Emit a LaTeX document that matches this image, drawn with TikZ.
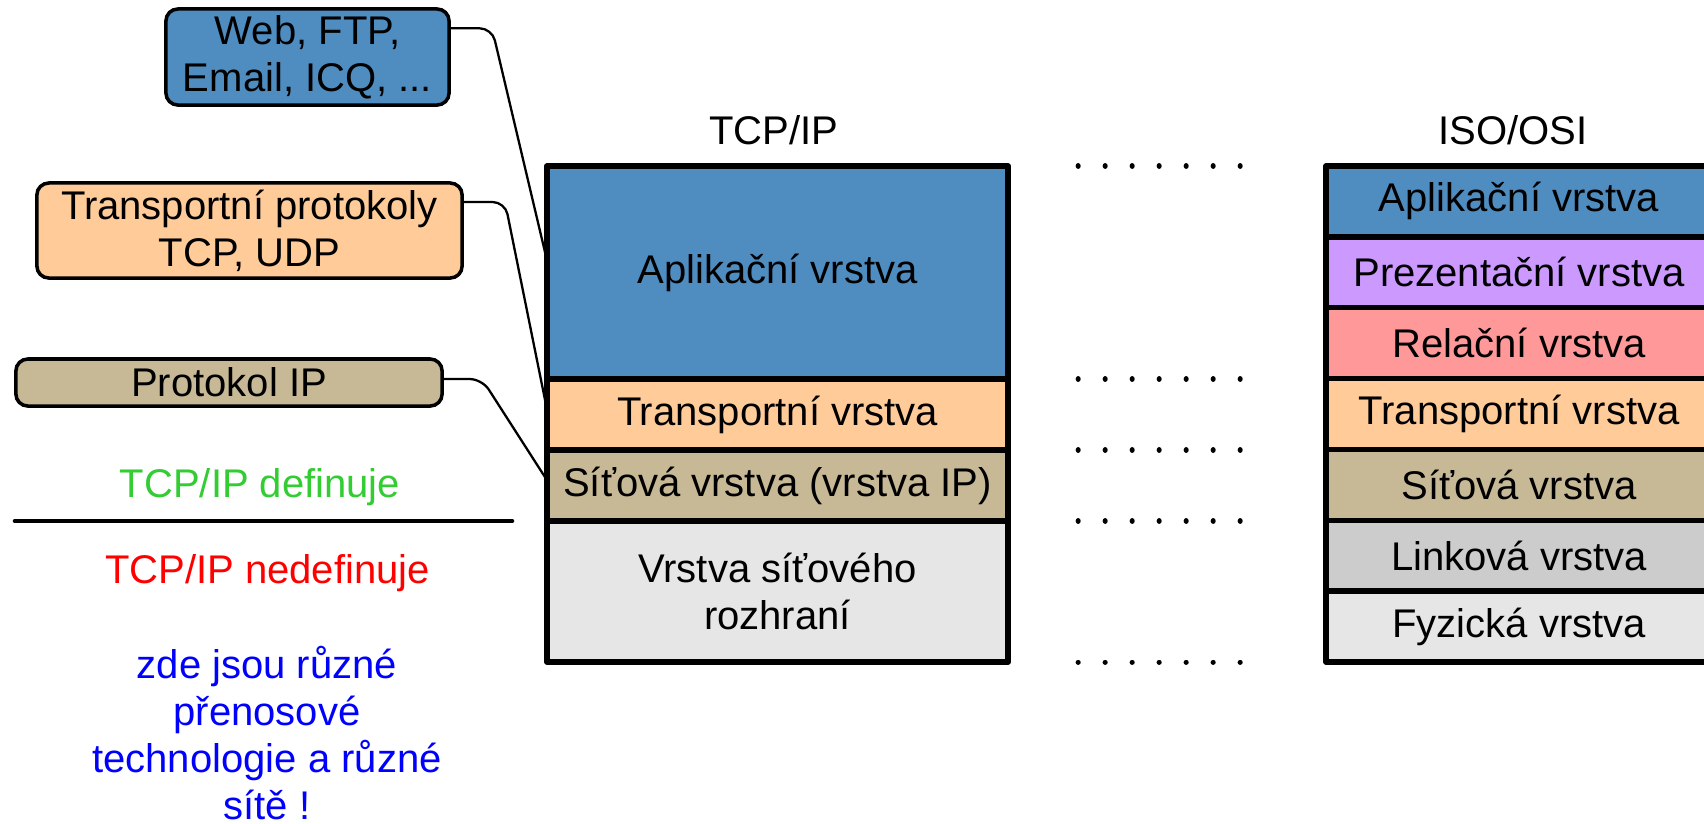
\documentclass[tikz,border=0pt]{standalone}
\usepackage{fontspec}
\setmainfont{Liberation Sans}
\usetikzlibrary{calc}
\definecolor{cblue}{HTML}{4F8DC1}
\definecolor{corange}{HTML}{FFCC99}
\definecolor{ctan}{HTML}{C7B996}
\definecolor{cpurple}{HTML}{CC99FF}
\definecolor{cpink}{HTML}{FF9999}
\definecolor{cgray}{HTML}{CCCCCC}
\definecolor{clight}{HTML}{E6E6E6}
\definecolor{cgreen}{HTML}{33CC33}
\begin{document}
\begin{tikzpicture}[x=0.01cm,y=-0.01cm,
 every node/.style={font=\fontsize{11.38}{13.37}\selectfont},
 layer/.style={draw,line width=1.55pt,line join=round,inner sep=0pt,outer sep=0pt,align=center},
 tcplayer/.style={layer,minimum width=4.61cm},
 osilayer/.style={layer,minimum width=3.86cm,minimum height=0.7086cm},
 callout/.style={draw,line width=1.0pt,rounded corners=3.4pt,inner sep=0pt,outer sep=0pt,align=center},
 conn/.style={line width=0.65pt,rounded corners=3.5pt},
 dotrow/.style={line width=1.45pt,line cap=round,dash pattern=on 0.01pt off 0.2695cm},
 sepline/.style={line width=1.3pt,line cap=round}]
\path[use as bounding box] (0,0) rectangle (1704,823);
\clip (0,0) rectangle (1704,823);

% TCP/IP stack
\node[anchor=base] (tcptitle) at (774,144) {TCP/IP};
\node[tcplayer,fill=cblue,minimum height=2.13cm] (tcpapp) at (777.5,272.5) {Aplikační vrstva};
\node[tcplayer,fill=corange,minimum height=0.71cm] (tcptr) at (777.5,414.5) {Transportní vrstva};
\node[tcplayer,fill=ctan,minimum height=0.71cm] (tcpnet) at (777.5,485.5) {Síťová vrstva (vrstva IP)};
\node[tcplayer,fill=clight,minimum height=1.41cm] (tcpif) at (777.5,591.5) {Vrstva síťového\\rozhraní};

% ISO/OSI stack
\node[anchor=base] (osititle) at (1513,144) {ISO/OSI};
\node[osilayer,fill=cblue] (osi1) at (1519,201.4) {Aplikační vrstva};
\node[osilayer,fill=cpurple] (osi2) at (1519,272.3) {Prezentační vrstva};
\node[osilayer,fill=cpink] (osi3) at (1519,343.1) {Relační vrstva};
\node[osilayer,fill=corange] (osi4) at (1519,414.0) {Transportní vrstva};
\node[osilayer,fill=ctan] (osi5) at (1519,484.9) {Síťová vrstva};
\node[osilayer,fill=cgray] (osi6) at (1519,555.7) {Linková vrstva};
\node[osilayer,fill=clight] (osi7) at (1519,626.6) {Fyzická vrstva};

% dotted rows
\foreach \nd/\an in {tcpapp/north east, tcptr/north east, tcpnet/north east, tcpif/north east, tcpif/south east}{
  \draw[dotrow] ($(\nd.\an)+(70,0)$) -- ($(\nd.\an)+(233,0)$);
}

% callouts
\node[callout,fill=cblue,minimum width=2.83cm,minimum height=0.96cm] (web) at (307.5,57) {Web, FTP,\\Email, ICQ, ...};
\node[callout,fill=corange,minimum width=4.25cm,minimum height=0.95cm] (trp) at (249.5,230.5) {Transportní protokoly\\TCP, UDP};
\node[callout,fill=ctan,minimum width=4.26cm,minimum height=0.47cm] (ipc) at (229,382.5) {Protokol IP};

\draw[conn] ($(web.east)+(0,-28.7)$) -- (492,28.3) -- ($(tcpapp.west)+(0,-12.5)$);
\draw[conn] ($(trp.east)+(0,-28.5)$) -- (505,202) -- ($(tcptr.west)+(0,-5.5)$);
\draw[conn] ($(ipc.east)+(0,-3.5)$) -- (482,379) -- ($(tcpnet.west)+(0,-5.5)$);

% left notes
\coordinate (sepl) at (15,521);
\coordinate (sepr) at (512,521);
\draw[sepline] (sepl) -- (sepr);
\node[anchor=base,text=cgreen] (def) at (260,497) {TCP/IP definuje};
\node[anchor=base,text=red] (nodef) at (267.5,583) {TCP/IP nedefinuje};
\node[align=center,text=blue] (note) at (267,733) {zde jsou různé\\přenosové\\technologie a různé\\sítě !};
\end{tikzpicture}
\end{document}
